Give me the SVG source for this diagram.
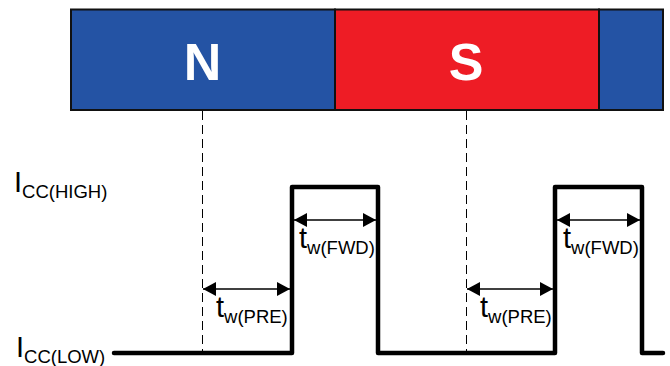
<svg xmlns="http://www.w3.org/2000/svg" width="670" height="366" viewBox="0 0 670 366">
<defs>
<marker id="ah" markerUnits="userSpaceOnUse" markerWidth="13" markerHeight="14" refX="13" refY="7" orient="auto-start-reverse"><path d="M0 0L13 7L0 14Z" fill="#000"/></marker>
</defs>
<style>
text{font-family:"Liberation Sans",Arial,sans-serif;fill:#000}
.pole{font-size:52px;font-weight:bold;fill:#fff;text-anchor:middle}
.m{font-size:29px}
.s{font-size:18.5px}
.seg{stroke:#111;stroke-width:2}
.dash{stroke:#000;stroke-width:1;stroke-dasharray:9 5;fill:none}
.wave{stroke:#000;stroke-width:4.500;fill:none;stroke-linecap:round;stroke-linejoin:round}
.dim{stroke:#000;stroke-width:1.300;fill:none;marker-start:url(#ah);marker-end:url(#ah)}
</style>
<rect width="670" height="366" fill="#fff"/>
<g id="magnet-n"><rect class="seg" x="71" y="9.500" width="264" height="100.500" fill="#2453a4"/><text class="pole" x="202.500" y="80">N</text></g>
<g id="magnet-s"><rect class="seg" x="335" y="9.500" width="264" height="100.500" fill="#ee1c25"/><text class="pole" x="466" y="80">S</text></g>
<g id="magnet-n2"><rect class="seg" x="599" y="9.500" width="64" height="100.500" fill="#2453a4"/></g>
<g id="connectors">
<path class="dash" d="M202.500 111V353"/>
<path class="dash" d="M466.500 111V353"/>
<path class="wave" d="M114 353H292V187H378V353H555V187H642V353H663"/>
<path class="dim" d="M203 289H290"/>
<path class="dim" d="M467 289H553"/>
<path class="dim" d="M294 220H376"/>
<path class="dim" d="M557 220H640"/>
</g>
<g id="label-icc-high"><text x="14" y="192" class="m">I<tspan class="s" dy="6">CC(HIGH)</tspan></text></g>
<g id="label-icc-low"><text x="16" y="357" class="m">I<tspan class="s" dy="6">CC(LOW)</tspan></text></g>
<g id="label-pre-1"><text x="216" y="317" class="m">t<tspan class="s" dy="6">w(PRE)</tspan></text></g>
<g id="label-pre-2"><text x="480" y="317" class="m">t<tspan class="s" dy="6">w(PRE)</tspan></text></g>
<g id="label-fwd-1"><text x="299" y="248" class="m">t<tspan class="s" dy="6">w(FWD)</tspan></text></g>
<g id="label-fwd-2"><text x="563" y="248" class="m">t<tspan class="s" dy="6">w(FWD)</tspan></text></g>
</svg>
